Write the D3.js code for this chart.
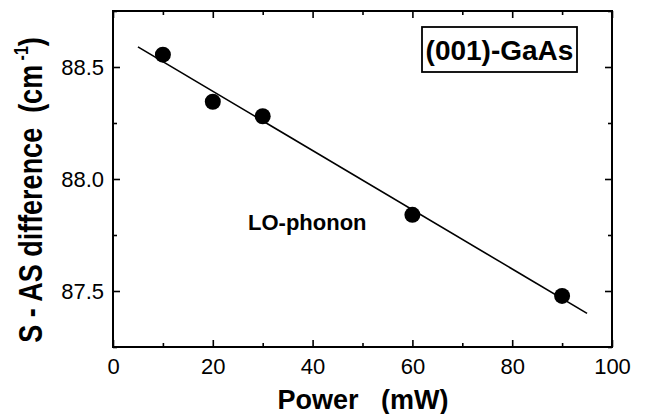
<!DOCTYPE html>
<html>
<head>
<meta charset="utf-8">
<script src="https://cdn.jsdelivr.net/npm/d3@7"></script>
<style>
  body { margin: 0; background: #fff; }
  svg { display: block; font-family: "Liberation Sans", Arial, sans-serif; }
  text { white-space: pre; }
</style>
</head>
<body>
<svg id="chart" width="647" height="414"></svg>
<script>
// measured points (power in mW, S-AS difference in cm-1)
const powers = [10, 20, 30, 60, 90];
const diffs = [88.555, 88.345, 88.28, 87.84, 87.478];
// linear fit drawn across the data
const fitX = [5, 95];
const fitY = [88.59, 87.40];

const xMajor = [0, 20, 40, 60, 80, 100];
const xMinor = [10, 30, 50, 70, 90];
const yMajor = [87.5, 88.0, 88.5];
const yMinor = [87.25, 87.75, 88.25, 88.75];

const margin = {top: 11, left: 113};
const width = 499, height = 336;

const svg = d3.select('#chart');
const g = svg.append('g').attr('transform', `translate(${margin.left},${margin.top})`);

const x = d3.scaleLinear().domain([0, 100]).range([0, width]);
const y = d3.scaleLinear().domain([87.25, 88.75]).range([height, 0]);

// ticks on all four sides, pointing inward
function ticks(axis, vals, size, fmt) {
  return axis.tickValues(vals).tickSize(size).tickFormat(fmt);
}
const noLbl = () => '';

g.append('g').attr('transform', `translate(0,${height})`)
  .call(ticks(d3.axisBottom(x), xMajor, -7, d3.format('d')).tickPadding(11));
g.append('g').attr('transform', `translate(0,${height})`)
  .call(ticks(d3.axisBottom(x), xMinor, -4, noLbl));
g.append('g').call(ticks(d3.axisTop(x), xMajor, -7, noLbl));
g.append('g').call(ticks(d3.axisTop(x), xMinor, -4, noLbl));

g.append('g')
  .call(ticks(d3.axisLeft(y), yMajor, -7, d3.format('.1f')).tickPadding(9));
g.append('g').call(ticks(d3.axisLeft(y), yMinor, -4, noLbl));
g.append('g').attr('transform', `translate(${width},0)`)
  .call(ticks(d3.axisRight(y), yMajor, -7, noLbl));
g.append('g').attr('transform', `translate(${width},0)`)
  .call(ticks(d3.axisRight(y), yMinor, -4, noLbl));

g.selectAll('.domain').remove();
g.selectAll('.tick line').attr('stroke', '#000').attr('stroke-width', 1.6);
g.selectAll('.tick text').attr('fill', '#000').style('font-size', '22px')
  .style('font-family', '"Liberation Sans", Arial, sans-serif');

// frame
g.append('rect')
  .attr('width', width).attr('height', height)
  .attr('fill', 'none').attr('stroke', '#000').attr('stroke-width', 2);

// fit line
const line = d3.line().x(d => x(d[0])).y(d => y(d[1]));
g.append('path')
  .datum(fitX.map((v, i) => [v, fitY[i]]))
  .attr('d', line)
  .attr('fill', 'none').attr('stroke', '#000').attr('stroke-width', 1.6);

// points
g.append('g').selectAll('circle')
  .data(powers.map((p, i) => ({p, v: diffs[i]})))
  .enter().append('circle')
  .attr('cx', d => x(d.p)).attr('cy', d => y(d.v))
  .attr('r', 8).attr('fill', '#000');

// sample label box
const box = svg.append('g');
box.append('rect')
  .attr('x', 422).attr('y', 27).attr('width', 155).attr('height', 45)
  .attr('fill', '#fff').attr('stroke', '#000').attr('stroke-width', 1.8);
box.append('text')
  .attr('x', 499.5).attr('y', 60).attr('text-anchor', 'middle')
  .attr('font-weight', 'bold').attr('font-size', 28)
  .text('(001)-GaAs');

svg.append('text')
  .attr('x', 248).attr('y', 230)
  .attr('font-weight', 'bold').attr('font-size', 22)
  .text('LO-phonon');

// axis titles
svg.append('text')
  .attr('x', 363).attr('y', 409).attr('text-anchor', 'middle')
  .attr('font-weight', 'bold').attr('font-size', 27)
  .text('Power   (mW)');

// the scan is stretched sideways, so the rotated title is widened a little
const yt = svg.append('text')
  .attr('transform', 'translate(42,190) scale(1.25,1) rotate(-90)')
  .attr('text-anchor', 'middle')
  .attr('font-weight', 'bold').attr('font-size', 27);
yt.append('tspan').text('S - AS difference  (cm');
yt.append('tspan').attr('font-size', 16).attr('dy', -11).text(' -1');
yt.append('tspan').attr('dy', 11).text(')');
</script>
</body>
</html>
